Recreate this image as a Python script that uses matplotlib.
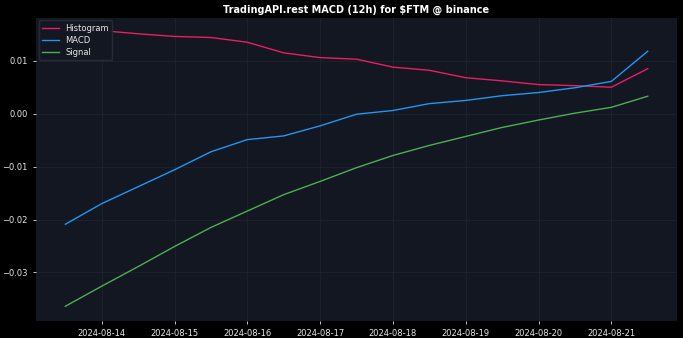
import matplotlib
matplotlib.use("Agg")
import matplotlib.pyplot as plt
import matplotlib.dates as mdates
import pandas as pd

# 12h candles, 2024-08-13 12:00 .. 2024-08-21 12:00
times = pd.date_range("2024-08-13 12:00", periods=17, freq="12h")

macd = [-0.0209, -0.0170, -0.0138, -0.0106, -0.0072, -0.0049, -0.0042, -0.0023,
        -0.0001, 0.0006, 0.0019, 0.0025, 0.0034, 0.0040, 0.0049, 0.0061, 0.0118]
signal = [-0.0364, -0.0326, -0.0289, -0.0251, -0.0215, -0.0184, -0.0153, -0.0128,
          -0.0102, -0.0079, -0.0060, -0.0043, -0.0026, -0.0012, 0.0001, 0.0012, 0.0033]
histogram = [0.0157, 0.0157, 0.0151, 0.0146, 0.0144, 0.0135, 0.0115, 0.0106,
             0.0103, 0.0088, 0.0082, 0.0068, 0.0062, 0.0055, 0.0053, 0.0050, 0.0085]

BG = "#000000"
PANEL = "#131722"
TXT = "#e6e6e6"

fig = plt.figure(figsize=(6.83, 3.38), dpi=100, facecolor=BG)
ax = fig.add_axes([0.053, 0.050, 0.938, 0.897], facecolor=PANEL)

ax.plot(times, histogram, color="#e91e63", lw=1.0, label="Histogram")
ax.plot(times, macd, color="#2196f3", lw=1.0, label="MACD")
ax.plot(times, signal, color="#4caf50", lw=1.0, label="Signal")

ax.set_title("TradingAPI.rest MACD (12h) for $FTM @ binance",
             color="white", fontsize=7, fontweight="bold", pad=4)

ax.xaxis.set_major_locator(mdates.DayLocator())
ax.xaxis.set_major_formatter(mdates.DateFormatter("%Y-%m-%d"))
ax.set_yticks([-0.03, -0.02, -0.01, 0.0, 0.01])
ax.set_ylim(-0.0392, 0.0181)
ax.margins(x=0.05)

ax.tick_params(colors=TXT, labelsize=6, length=2.5, width=0.6)
for s in ax.spines.values():
    s.set_visible(False)
ax.grid(True, color="#2a2e39", lw=0.5, alpha=0.6)

leg = ax.legend(loc="upper left", fontsize=6, frameon=True, borderaxespad=0.3,
                handlelength=2.0, labelspacing=0.35)
leg.get_frame().set_facecolor(PANEL)
leg.get_frame().set_edgecolor("#2a2e39")
leg.get_frame().set_alpha(0.9)
for t in leg.get_texts():
    t.set_color(TXT)

fig.savefig("out.png", dpi=100, facecolor=BG)
